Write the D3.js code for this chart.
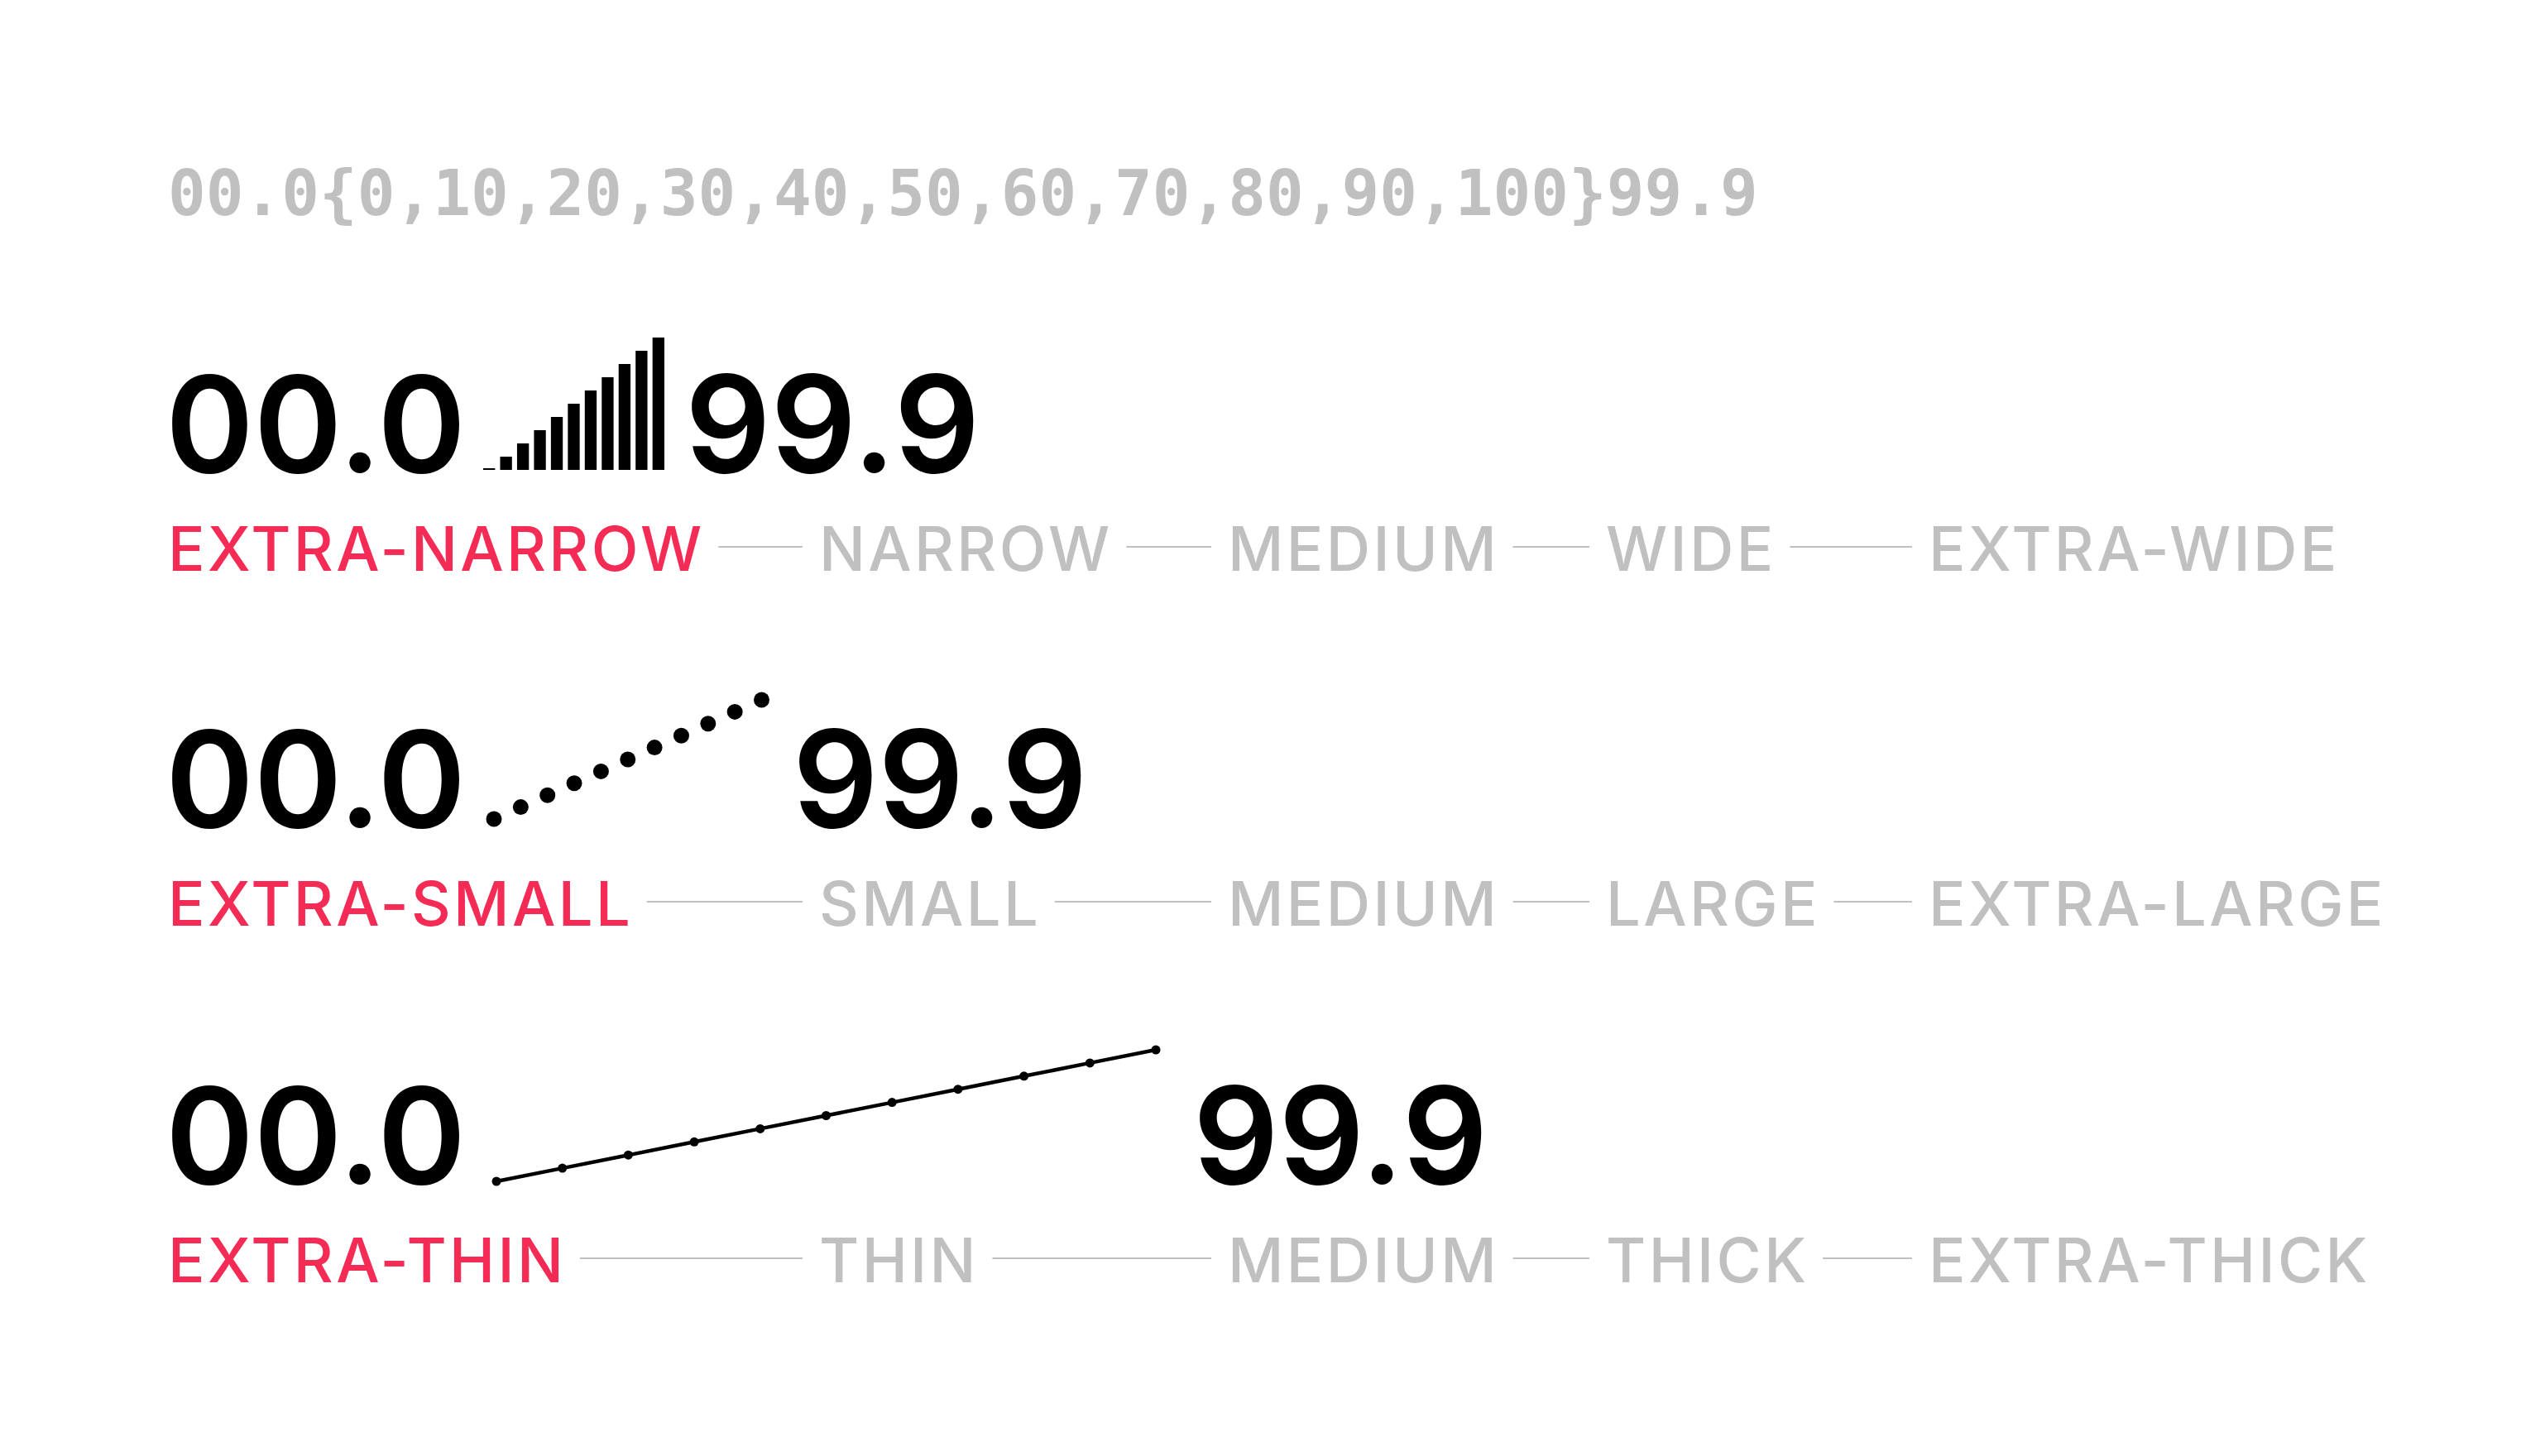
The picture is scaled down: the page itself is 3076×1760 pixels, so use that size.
<!DOCTYPE html>
<html>
<head>
<meta charset="utf-8">
<script src="https://cdn.jsdelivr.net/npm/d3@7"></script>
<style>
  html, body { margin: 0; padding: 0; background: #ffffff; }
  svg { display: block; }
</style>
</head>
<body>
<svg id="chart" width="3076" height="1760"></svg>
<script>
// ---------------- data ----------------
const sparkValues = [0, 10, 20, 30, 40, 50, 60, 70, 80, 90, 100];
const barValues   = [0, 10, 20, 30, 40, 50, 60, 70, 80, 90, 100];
const dotValues   = [0, 10, 20, 30, 40, 50, 60, 70, 80, 90, 100];
const lineValues  = [0, 10, 20, 30, 40, 50, 60, 70, 80, 90, 100];
const minLabel = "00.0";
const maxLabel = "99.9";
const widthLabels  = ["EXTRA-NARROW", "NARROW", "MEDIUM", "WIDE", "EXTRA-WIDE"];
const sizeLabels   = ["EXTRA-SMALL", "SMALL", "MEDIUM", "LARGE", "EXTRA-LARGE"];
const weightLabels = ["EXTRA-THIN", "THIN", "MEDIUM", "THICK", "EXTRA-THICK"];
const activeIndex = 0;

// ---------------- style / layout ----------------
const RED = "#F42C55", GRAY = "#C0C0C0", BLACK = "#000000";
const svg = d3.select("#chart");
const left = 200;
const colX = [203, 990, 1484, 1941, 2331];
const rowBase = [571, 1000, 1431];
const labelOffset = 119;

// header
svg.append("text")
  .attr("x", 203).attr("y", 260)
  .attr("font-family", "DejaVu Sans Mono")
  .attr("font-size", 76)
  .attr("font-weight", "bold")
  .attr("fill", GRAY)
  .text(minLabel + "{" + sparkValues.join(",") + "}" + maxLabel);

function bigText(x, y, t) {
  return svg.append("text")
    .attr("x", x).attr("y", y)
    .attr("font-family", "Inter")
    .attr("font-size", 162)
    .attr("font-weight", 600)
    .attr("fill", BLACK)
    .text(t);
}

// ---- Row 1: bars ----
const r1 = { x0: 584, x1: 803, yBase: 568, yTop: 408, max: 828 };
bigText(left, rowBase[0], minLabel);
const xb = d3.scaleBand().domain(d3.range(barValues.length)).range([r1.x0, r1.x1]).paddingInner(0.3).paddingOuter(0);
const yb = d3.scaleLinear().domain([0, 100]).range([r1.yBase, r1.yTop]);
svg.append("g").selectAll("rect").data(barValues).join("rect")
  .attr("x", (d, i) => xb(i))
  .attr("width", xb.bandwidth())
  .attr("y", d => Math.min(yb(d), r1.yBase - 2))
  .attr("height", d => Math.max(2, r1.yBase - yb(d)))
  .attr("fill", BLACK);
bigText(r1.max, rowBase[0], maxLabel);

// ---- Row 2: dots ----
const r2 = { x0: 597, x1: 920.5, yBase: 990, yTop: 846, max: 958, r: 9.5 };
bigText(left, rowBase[1], minLabel);
const xd = d3.scalePoint().domain(d3.range(dotValues.length)).range([r2.x0, r2.x1]);
const yd = d3.scaleLinear().domain([0, 100]).range([r2.yBase, r2.yTop]);
svg.append("g").selectAll("circle").data(dotValues).join("circle")
  .attr("cx", (d, i) => xd(i)).attr("cy", d => yd(d)).attr("r", r2.r)
  .attr("fill", BLACK);
bigText(r2.max, rowBase[1], maxLabel);

// ---- Row 3: line ----
const r3 = { x0: 600, x1: 1397, yBase: 1428, yTop: 1269, max: 1442 };
bigText(left, rowBase[2], minLabel);
const xl = d3.scalePoint().domain(d3.range(lineValues.length)).range([r3.x0, r3.x1]);
const yl = d3.scaleLinear().domain([0, 100]).range([r3.yBase, r3.yTop]);
svg.append("path").datum(lineValues)
  .attr("d", d3.line().x((d, i) => xl(i)).y(d => yl(d)))
  .attr("fill", "none").attr("stroke", BLACK).attr("stroke-width", 4.5);
svg.append("g").selectAll("circle").data(lineValues).join("circle")
  .attr("cx", (d, i) => xl(i)).attr("cy", d => yl(d)).attr("r", 5.5)
  .attr("fill", BLACK);
bigText(r3.max, rowBase[2], maxLabel);

// ---- label rows ----
const ls = 0.045;
function labelRow(labels, baseY) {
  const g = svg.append("g");
  const nodes = labels.map((t, i) =>
    g.append("text")
      .attr("x", colX[i]).attr("y", baseY)
      .attr("font-family", "Inter")
      .attr("font-size", 74)
      .attr("font-weight", 500)
      .attr("letter-spacing", ls + "em")
      .attr("fill", i === activeIndex ? RED : GRAY)
      .text(t));
  nodes.forEach((n, i) => {
    if (i === nodes.length - 1) return;
    const bb = n.node().getBBox();
    const xEnd = bb.x + bb.width - 74 * ls;
    g.append("line")
      .attr("x1", xEnd + 20).attr("x2", colX[i + 1] - 20)
      .attr("y1", baseY - 29).attr("y2", baseY - 29)
      .attr("stroke", GRAY).attr("stroke-width", 2);
  });
}
labelRow(widthLabels, rowBase[0] + labelOffset);
labelRow(sizeLabels, rowBase[1] + labelOffset);
labelRow(weightLabels, rowBase[2] + labelOffset);
</script>
</body>
</html>
